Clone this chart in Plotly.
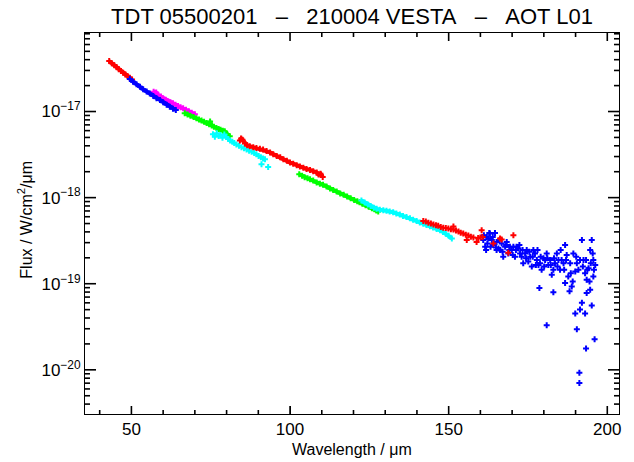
import math
import plotly.graph_objects as go

UNIT = 1e-18  # flux values below are in units of 1e-18 W/cm2/um

red1_x = [43.0, 43.8, 44.6, 45.3, 46.0, 46.7, 47.4, 48.1, 48.8, 49.5, 50.2]
red1_y = [38.5, 36.4, 34.5, 32.9, 31.0, 29.6, 28.3, 26.9, 25.7, 24.6, 23.5]

blue1_x = [49.5, 50.5, 51.6, 52.7, 53.7, 54.8, 55.8, 56.9, 57.9, 59.0, 60.0, 61.1, 62.1, 63.1, 64.0]
blue1_y = [23.8, 22.2, 20.7, 19.4, 18.1, 17.1, 16.2, 15.1, 14.3, 13.6, 12.8, 12.0, 11.4, 10.8, 10.4]

mag_x = [57.0, 57.8, 58.5, 59.3, 60.0, 60.8, 61.6, 62.3, 63.1, 63.9, 64.7, 65.5, 66.3, 67.2, 68.1, 69.0, 70.0]
mag_y = [17.0, 16.6, 15.5, 14.9, 14.2, 13.7, 13.1, 12.8, 12.45, 12.0, 11.6, 11.2, 10.9, 10.5, 10.1, 9.7, 9.3]

green1_x = [66.8, 67.7, 68.6, 69.6, 70.5, 71.3, 72.1, 72.9, 73.7, 74.5, 74.8, 75.3, 76.0, 76.8, 77.5, 78.1, 78.8, 79.4, 80.2, 81.0]
green1_y = [9.57, 9.25, 8.95, 8.62, 8.38, 8.10, 7.85, 7.60, 7.34, 7.10, 7.67, 6.90, 6.65, 6.43, 6.25, 6.15, 5.98, 5.89, 5.50, 5.16]

cyan1_x = [75.7, 76.3, 76.9, 77.5, 78.1, 78.7, 79.3, 79.9, 80.5, 81.1, 81.8, 82.4, 83.1, 83.9, 84.7,
           85.5, 86.3, 87.1, 87.9, 88.7, 89.4, 90.1, 90.8, 91.5, 92.1, 91.0, 93.1]
cyan1_y = [5.45, 5.10, 5.60, 5.20, 5.35, 4.95, 5.40, 5.05, 4.80, 4.60, 4.45, 4.30, 4.14, 4.00, 3.85,
           3.75, 3.63, 3.50, 3.40, 3.30, 3.18, 3.05, 2.95, 2.85, 2.79, 2.44, 2.27]

red2_x = [84.2, 84.6, 85.0, 85.8, 86.5, 87.3, 88.4, 89.4, 90.5, 91.5, 92.6, 93.7, 94.7, 95.8, 96.9,
          97.9, 99.0, 100.0, 101.0, 102.1, 103.1, 104.2, 105.2, 106.3, 107.3, 108.4, 109.0, 109.6, 110.3]
red2_y = [4.60, 4.85, 4.70, 4.25, 4.05, 3.96, 3.85, 3.78, 3.70, 3.63, 3.48, 3.35, 3.20, 3.04, 2.95,
          2.80, 2.68, 2.55, 2.48, 2.38, 2.30, 2.23, 2.15, 2.10, 2.02, 1.96, 1.85, 1.90, 1.74]

green2_x = [102.9, 103.8, 104.6, 105.5, 106.3, 107.3, 108.4, 109.4, 110.4, 111.5, 112.6, 113.6, 114.7,
            115.8, 116.9, 118.0, 119.1, 120.2, 121.2, 121.9, 122.8, 123.8, 124.8, 125.8, 126.6, 127.2, 127.8]
green2_y = [1.87, 1.80, 1.72, 1.68, 1.64, 1.58, 1.50, 1.45, 1.41, 1.35, 1.28, 1.23, 1.18,
            1.12, 1.08, 1.03, 0.985, 0.94, 0.905, 0.883, 0.850, 0.815, 0.785, 0.755, 0.735, 0.710, 0.690]

cyan2_x = [122.5, 123.5, 124.5, 125.4, 126.4, 127.3, 128.3, 129.4, 130.4, 131.4, 132.5, 133.5, 134.6, 135.6,
           136.7, 137.8, 138.8, 139.9, 140.9, 142.0, 143.0, 144.1, 145.1, 146.2, 147.3, 148.2, 149.1, 150.0, 151.0]
cyan2_y = [0.923, 0.880, 0.830, 0.800, 0.765, 0.741, 0.725, 0.715, 0.705, 0.690, 0.678, 0.655, 0.635, 0.612,
           0.594, 0.575, 0.555, 0.535, 0.515, 0.498, 0.480, 0.465, 0.450, 0.432, 0.417, 0.400, 0.380, 0.360, 0.335]

red3_x = [142.0, 142.8, 143.6, 144.4, 145.2, 146.0, 146.7, 147.5, 148.3, 149.1, 149.9, 150.7, 151.5, 151.5,
          152.3, 153.1, 153.8, 154.6, 155.4, 155.7, 156.2, 157.0, 157.8, 158.8, 159.3, 160.0, 160.4, 160.7,
          164.1, 166.2, 166.7, 168.8, 170.4]
red3_y = [0.535, 0.528, 0.510, 0.500, 0.489, 0.478, 0.470, 0.455, 0.448, 0.445, 0.438, 0.430, 0.425, 0.463,
          0.415, 0.405, 0.392, 0.382, 0.370, 0.321, 0.362, 0.352, 0.344, 0.306, 0.340, 0.345, 0.417, 0.350,
          0.293, 0.335, 0.326, 0.229, 0.366]

blue2_x = [160.9, 162.0, 163.0, 164.1, 165.1, 166.2, 167.8, 168.3, 169.9, 171.4, 172.5, 173.5, 174.6, 175.7,
           176.7, 177.8, 178.8, 179.9, 180.9, 181.4, 183.0, 184.1, 184.6, 185.1, 186.2, 186.7, 187.2, 187.7,
           188.8, 189.3, 190.4, 190.9, 192.0, 192.5, 193.0, 193.5, 194.6, 195.1, 195.6, 196.2, 195.6,
           178.6, 180.9, 183.0, 186.7, 188.1, 189.9, 190.4, 191.4, 192.0, 193.0, 193.3, 193.5, 195.1, 196.0,
           191.2, 191.2, 162.8, 164.6,
           161.5, 163.6, 165.7, 166.7, 167.2, 168.8, 170.4, 170.9, 172.0, 173.0, 174.1, 175.1, 176.2, 177.2,
           178.3, 179.3, 180.4, 182.0, 182.5, 183.5, 185.6, 188.3, 189.9, 191.4, 194.1, 194.6, 195.4, 162.2,
           165.1, 169.3,
           161.1, 161.8, 162.5, 163.2, 163.9, 164.9, 166.0, 167.0, 168.1, 169.1, 170.2, 171.2, 172.3, 173.3,
           174.4, 175.4, 176.5, 177.5, 178.0, 179.0, 180.1, 181.1, 182.2, 183.2, 184.3, 185.3, 186.4, 187.0,
           188.5, 189.1, 190.2, 192.3, 193.3, 193.7, 194.4, 194.8, 195.8]
blue2_y = [0.321, 0.350, 0.382, 0.281, 0.306, 0.246, 0.269, 0.306, 0.246, 0.269, 0.225, 0.173, 0.246, 0.206,
           0.246, 0.189, 0.173, 0.197, 0.225, 0.165, 0.145, 0.225, 0.189, 0.145, 0.173, 0.281, 0.215, 0.121,
           0.0931, 0.225, 0.173, 0.145, 0.321, 0.189, 0.132, 0.111, 0.0853, 0.321, 0.189, 0.165, 0.121,
           0.0891, 0.0329, 0.0794, 0.102, 0.0816, 0.0452, 0.0296, 0.0502, 0.060, 0.0452, 0.0177, 0.0781, 0.0558, 0.0227,
           0.00923, 0.00703, 0.389, 0.389,
           0.269, 0.321, 0.257, 0.293, 0.206, 0.225, 0.269, 0.206, 0.257, 0.206, 0.225, 0.181, 0.158, 0.225,
           0.165, 0.145, 0.189, 0.189, 0.127, 0.173, 0.189, 0.173, 0.139, 0.189, 0.151, 0.246, 0.225, 0.293,
           0.246, 0.269,
           0.366, 0.246, 0.335, 0.269, 0.350, 0.264, 0.321, 0.235, 0.281, 0.246, 0.215, 0.246, 0.281, 0.246,
           0.197, 0.235, 0.206, 0.165, 0.246, 0.206, 0.158, 0.197, 0.165, 0.197, 0.158, 0.246, 0.145, 0.189,
           0.132, 0.106, 0.206, 0.158, 0.189, 0.145, 0.106, 0.173, 0.145]

# axis tick values
x_major = [50, 100, 150, 200]
x_minor = [40, 60, 70, 80, 90, 110, 120, 130, 140, 160, 170, 180, 190]
y_exps = [-20, -19, -18, -17]

X_RANGE = [35.37, 203.69]
Y_LOG_RANGE = [-20.513, -16.088]

# (x, y, colour, smooth band?)
segments = [
    (red1_x, red1_y, "#ff0000", True),
    (mag_x, mag_y, "#ff00ff", True),
    (blue1_x, blue1_y, "#0000ff", True),
    (green1_x, green1_y, "#00ff00", True),
    (cyan1_x, cyan1_y, "#00ffff", False),
    (red2_x, red2_y, "#ff0000", True),
    (green2_x, green2_y, "#00ff00", True),
    (cyan2_x, cyan2_y, "#00ffff", True),
    (blue2_x, blue2_y, "#0000ff", False),
    (red3_x, red3_y, "#ff0000", False),
]

fig = go.Figure()
for xs, ys, col, smooth in segments:
    fig.add_trace(go.Scatter(
        x=xs, y=[v * UNIT for v in ys],
        mode="lines+markers" if smooth else "markers",
        line=dict(color=col, width=4),
        marker=dict(symbol="cross", size=5, color=col, line=dict(width=0)),
        showlegend=False, hoverinfo="skip"))

font = "Liberation Sans, Arial, Helvetica, sans-serif"
y_major_vals = [10.0 ** e for e in y_exps]
y_minor = [m * 10.0 ** e for e in range(-21, -15) for m in range(2, 10)
           if Y_LOG_RANGE[0] < math.log10(m * 10.0 ** e) < Y_LOG_RANGE[1]]

# tick marks drawn inside the frame on all four sides (pixel-length shapes)
tick_line = dict(color="black", width=1.6)
shapes = []
for vals, ln in ((x_major, 8), (x_minor, 4)):
    for v in vals:
        shapes.append(dict(type="line", xref="x", yref="paper", ysizemode="pixel", yanchor=0,
                           x0=v, x1=v, y0=0, y1=ln, line=tick_line, layer="above"))
        shapes.append(dict(type="line", xref="x", yref="paper", ysizemode="pixel", yanchor=1,
                           x0=v, x1=v, y0=0, y1=-ln, line=tick_line, layer="above"))
for vals, ln in ((y_major_vals, 11), (y_minor, 5)):
    for v in vals:
        p = (math.log10(v) - Y_LOG_RANGE[0]) / (Y_LOG_RANGE[1] - Y_LOG_RANGE[0])
        shapes.append(dict(type="line", xref="paper", yref="paper", xsizemode="pixel", xanchor=0,
                           x0=0, x1=ln, y0=p, y1=p, line=tick_line, layer="above"))
        shapes.append(dict(type="line", xref="paper", yref="paper", xsizemode="pixel", xanchor=1,
                           x0=0, x1=-ln, y0=p, y1=p, line=tick_line, layer="above"))

nb = "\u00a0\u00a0\u00a0"
title_text = "TDT 05500201" + nb + "\u2013" + nb + "210004 VESTA" + nb + "\u2013" + nb + "AOT L01"

fig.update_layout(
    width=634, height=462,
    margin=dict(l=85, r=15, t=33, b=48),
    paper_bgcolor="white", plot_bgcolor="white",
    font=dict(family=font, size=17, color="black"),
    title=dict(text=title_text,
               x=0.5, xref="paper", xanchor="center",
               y=1 - 16 / 462, yref="container", yanchor="middle",
               automargin=False,
               font=dict(family=font, size=22, color="black")),
    xaxis=dict(range=X_RANGE, showgrid=False, zeroline=False, automargin=False,
               showline=True, linecolor="#000000", linewidth=1, mirror=True,
               ticks="inside", ticklen=8, tickcolor="#000000",
               tickmode="array", tickvals=x_major, tickfont=dict(size=17)),
    yaxis=dict(type="log", range=Y_LOG_RANGE, showgrid=False, zeroline=False, automargin=False,
               showline=True, linecolor="#000000", linewidth=1, mirror=True,
               ticks="inside", ticklen=11, tickcolor="#000000",
               tickmode="array", tickvals=y_major_vals,
               ticktext=["10<sup>\u2212%d</sup>" % (-e) for e in y_exps],
               tickfont=dict(size=17)),
    shapes=shapes,
    annotations=[
        dict(text="Wavelength / \u03bcm", xref="paper", yref="paper",
             x=0.5, y=-35 / 381, xanchor="center", yanchor="middle",
             showarrow=False, font=dict(family=font, size=16, color="black")),
        dict(text="Flux / W/cm<sup>2</sup>/\u03bcm", xref="paper", yref="paper",
             x=-60 / 534, y=0.51, xanchor="center", yanchor="middle", textangle=-90,
             showarrow=False, font=dict(family=font, size=16, color="black")),
    ],
)

fig.write_html("out.html", config={"displayModeBar": False},
               post_script="document.body.style.margin='0';document.body.style.padding='0';")
